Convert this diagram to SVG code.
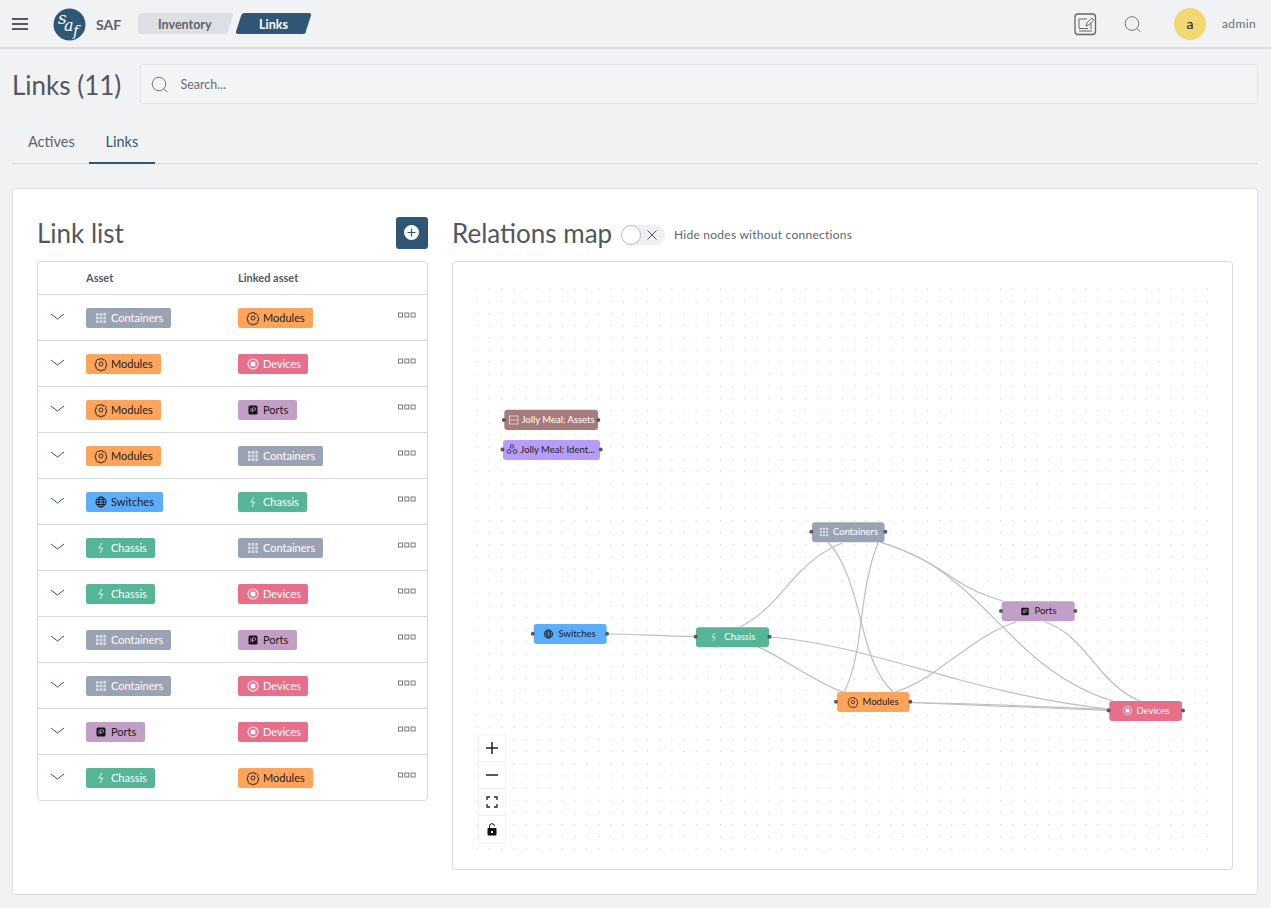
<svg xmlns="http://www.w3.org/2000/svg" xmlns:xlink="http://www.w3.org/1999/xlink" width="1271" height="908" viewBox="0 0 1271 908">
<style>
text{font-family:"Lato","Noto Sans","Liberation Sans",sans-serif;fill:#5a5f66}
.chip{font-size:11px}
.w{fill:#fff}
.k{fill:#1c1c1c}
.hd{font-size:11px;font-weight:700;fill:#555a61}
.ttl{font-size:26px;fill:#52575e}
.mp{font-size:9.5px}
.row{stroke:#d7d9dd;stroke-width:1}
.edge{fill:none;stroke:#bcbec3;stroke-width:1.2}
.hnd{fill:#55585c}
.ico{fill:none;stroke-width:1}
.dot3{fill:none;stroke:#777c83;stroke-width:1}
.c-con{fill:#9aa3b3}.c-mod{fill:#fea55b}.c-dev{fill:#e6708a}.c-por{fill:#c29fc6}.c-swi{fill:#5cadfb}.c-cha{fill:#55b596}
</style>
<defs>
<pattern id="dots" x="476.6" y="288.6" width="12.17" height="12.17" patternUnits="userSpaceOnUse"><rect x="0" y="0" width="1.1" height="1.1" fill="#c9ccd1"/></pattern>
<symbol id="i-con" viewBox="0 0 12 12" overflow="visible"><g fill="#d9dde3"><rect x="1" y="1" width="2.6" height="2.6"/><rect x="4.7" y="1" width="2.6" height="2.6"/><rect x="8.4" y="1" width="2.6" height="2.6"/><rect x="1" y="4.7" width="2.6" height="2.6"/><rect x="4.7" y="4.7" width="2.6" height="2.6"/><rect x="8.4" y="4.7" width="2.6" height="2.6"/><rect x="1" y="8.4" width="2.6" height="2.6"/><rect x="4.7" y="8.4" width="2.6" height="2.6"/><rect x="8.4" y="8.4" width="2.6" height="2.6"/></g></symbol>
<symbol id="i-mod" viewBox="0 0 12 12" overflow="visible"><circle cx="6" cy="6" r="2" fill="none" stroke="#222" stroke-width=".9"/><path d="M4.6 .7h2.8l.4 1.5 1.4-.7 1.9 2-.8 1.3 1.3.7v2.9l-1.3.5.7 1.4-2 1.9-1.3-.7-.4 1.3H4.6l-.5-1.4-1.3.7-2-1.9.7-1.3-1.2-.6V5l1.3-.6-.8-1.3 2-2 1.3.7z" fill="none" stroke="#222" stroke-width=".9"/></symbol>
<symbol id="i-dev" viewBox="0 0 12 12" overflow="visible"><circle cx="6" cy="6" r="5" fill="none" stroke="#fbe3e8" stroke-width="1.2"/><rect x="3.7" y="3.7" width="4.6" height="4.6" fill="#fff"/></symbol>
<symbol id="i-por" viewBox="0 0 12 12" overflow="visible"><rect x="1.5" y="1.5" width="9" height="9" rx="1.5" fill="#151515"/><path d="M4 3.8v4.4M5.6 8.2V3.8H7.4a1.2 1.2 0 0 1 0 2.6H5.6" fill="none" stroke="#c29fc6" stroke-width=".8"/></symbol>
<symbol id="i-swi" viewBox="0 0 12 12" overflow="visible"><g fill="none" stroke="#111" stroke-width=".9"><circle cx="6" cy="6" r="5"/><ellipse cx="6" cy="6" rx="2.2" ry="5"/><path d="M1 6h10M1.8 3.5h8.4M1.8 8.5h8.4"/></g></symbol>
<symbol id="i-cha" viewBox="0 0 12 12" overflow="visible"><path d="M7 1 3.8 6.2H7.6L5 11" fill="none" stroke="#e3f3ee" stroke-width="1"/></symbol>
<symbol id="menu3" viewBox="0 0 18 6" overflow="visible"><rect class="dot3" x=".5" y=".5" width="4" height="4"/><rect class="dot3" x="6.8" y=".5" width="4" height="4"/><rect class="dot3" x="13.1" y=".5" width="4" height="4"/></symbol>
<path id="chev" d="M0 0l6.5 5 6.5-5" fill="none" stroke="#2f5773" stroke-width="1"/>
</defs>
<rect width="1271" height="908" fill="#f1f2f4"/>
<g id="topbar">
<rect x="0" y="47" width="1271" height="2" fill="#d9dbe1"/>
<path d="M12 19h16M12 24h16M12 29h16" stroke="#55585c" stroke-width="2" fill="none"/>
<circle cx="69.500" cy="24.500" r="16" fill="#2f5773"/>
<text x="58" y="24" style="font-size:17px;font-family:'DejaVu Serif',serif;fill:#fff;font-style:italic">s</text>
<text x="64" y="31" style="font-size:16px;font-family:'DejaVu Serif',serif;fill:#fff;font-style:italic">a</text>
<text x="73" y="36" style="font-size:15px;font-family:'DejaVu Serif',serif;fill:#fff;font-style:italic">f</text>
<text x="96" y="30" style="font-size:14px;font-weight:700;fill:#5c6066">SAF</text>
<path d="M141 13H231a2 2 0 0 1 2 2.500L228 31a3 3 0 0 1-3 3H141a3 3 0 0 1-3-3V16a3 3 0 0 1 3-3z" fill="#dcdfe4"/>
<text x="158" y="29" style="font-size:12.500px;font-weight:700;fill:#5f636a">Inventory</text>
<path d="M245 13H309a2 2 0 0 1 2 2.500L306 31a3 3 0 0 1-3 3H238a2 2 0 0 1-2-2.500L241 16a4 4 0 0 1 4-3z" fill="#2f5773"/>
<text x="259" y="29" style="font-size:12.500px;font-weight:700;fill:#fff">Links</text>
<rect x="1075" y="14" width="20.500" height="20.500" rx="3" fill="none" stroke="#666" stroke-width="1.300"/>
<path d="M1079 31h13M1079 28.500h9M1079 28V19h8M1091 23v6" fill="none" stroke="#666" stroke-width="1"/>
<path d="M1086 26l.8-3 5-5 2 2-5 5z" fill="none" stroke="#666" stroke-width="1"/>
<circle cx="1132" cy="23.500" r="6.800" fill="none" stroke="#777" stroke-width="1"/>
<path d="M1136.500 28.500l4 3" stroke="#777" stroke-width="1"/>
<circle cx="1190" cy="24" r="16" fill="#f2d872"/>
<text x="1190" y="29" text-anchor="middle" style="font-size:14px;fill:#222">a</text>
<text x="1222" y="28" style="font-size:12px;letter-spacing:.4px;fill:#6a6e74">admin</text>
</g>
<g id="page-head">
<text x="12" y="95" class="ttl">Links (11)</text>
<rect x="140.500" y="64.500" width="1117" height="39" rx="2" fill="#f3f4f6" stroke="#dfe1e5"/>
<circle cx="159" cy="84" r="6.800" fill="none" stroke="#777" stroke-width="1"/>
<path d="M163.500 89l4 3" stroke="#777" stroke-width="1"/>
<text x="180.500" y="89" style="font-size:12.500px;fill:#6a6e74">Search...</text>
<text x="28" y="147" style="font-size:14.500px;fill:#5f646b">Actives</text>
<text x="105.500" y="147" style="font-size:14.500px;fill:#2f5773">Links</text>
<rect x="12" y="163" width="1246" height="1" fill="#d5d7db"/>
<rect x="89" y="162" width="66" height="2" fill="#2f5773"/>
</g>
<rect x="12.500" y="188.500" width="1245" height="706" rx="3" fill="#fff" stroke="#dcdee2"/>
<g id="link-list">
<text x="37" y="243" class="ttl">Link list</text>
<rect x="396" y="217" width="32" height="32" rx="3" fill="#2f5773"/>
<circle cx="411.500" cy="232.500" r="7.500" fill="#fff"/>
<path d="M407.500 232.500h8M411.500 228.500v8" stroke="#2f5773" stroke-width="1.200"/>
<rect x="37.500" y="261.500" width="390" height="539" rx="3" fill="#fff" stroke="#d7d9dd"/>
<text x="86" y="282" class="hd">Asset</text>
<text x="238" y="282" class="hd">Linked asset</text>
<g class="rows">
<path class="row" d="M38 294.500H427M38 340.500H427M38 386.500H427M38 432.500H427M38 478.500H427M38 524.500H427M38 570.500H427M38 616.500H427M38 662.500H427M38 708.500H427M38 754.500H427"/>
</g>
<g id="row-chevrons">
<use href="#chev" x="51" y="314"/><use href="#chev" x="51" y="360"/><use href="#chev" x="51" y="406"/><use href="#chev" x="51" y="452"/><use href="#chev" x="51" y="498"/><use href="#chev" x="51" y="544"/><use href="#chev" x="51" y="590"/><use href="#chev" x="51" y="636"/><use href="#chev" x="51" y="682"/><use href="#chev" x="51" y="728"/><use href="#chev" x="51" y="774"/>
</g>
<g id="row-menus">
<use href="#menu3" x="398" y="312.500" width="18" height="6"/><use href="#menu3" x="398" y="358.500" width="18" height="6"/><use href="#menu3" x="398" y="404.500" width="18" height="6"/><use href="#menu3" x="398" y="450.500" width="18" height="6"/><use href="#menu3" x="398" y="496.500" width="18" height="6"/><use href="#menu3" x="398" y="542.500" width="18" height="6"/><use href="#menu3" x="398" y="588.500" width="18" height="6"/><use href="#menu3" x="398" y="634.500" width="18" height="6"/><use href="#menu3" x="398" y="680.500" width="18" height="6"/><use href="#menu3" x="398" y="726.500" width="18" height="6"/><use href="#menu3" x="398" y="772.500" width="18" height="6"/>
</g>
<g id="chips">
<g id="r1a"><rect class="c-con" x="86" y="308" width="85" height="20" rx="2"/><use href="#i-con" x="95" y="312" width="12" height="12"/><text class="chip w" x="111" y="322">Containers</text></g>
<g id="r1b"><rect class="c-mod" x="238" y="308" width="75" height="20" rx="2"/><use href="#i-mod" x="247" y="312" width="12" height="12"/><text class="chip k" x="263" y="322">Modules</text></g>
<g id="r2a"><rect class="c-mod" x="86" y="354" width="75" height="20" rx="2"/><use href="#i-mod" x="95" y="358" width="12" height="12"/><text class="chip k" x="111" y="368">Modules</text></g>
<g id="r2b"><rect class="c-dev" x="238" y="354" width="70" height="20" rx="2"/><use href="#i-dev" x="247" y="358" width="12" height="12"/><text class="chip w" x="263" y="368">Devices</text></g>
<g id="r3a"><rect class="c-mod" x="86" y="400" width="75" height="20" rx="2"/><use href="#i-mod" x="95" y="404" width="12" height="12"/><text class="chip k" x="111" y="414">Modules</text></g>
<g id="r3b"><rect class="c-por" x="238" y="400" width="59" height="20" rx="2"/><use href="#i-por" x="247" y="404" width="12" height="12"/><text class="chip k" x="263" y="414">Ports</text></g>
<g id="r4a"><rect class="c-mod" x="86" y="446" width="75" height="20" rx="2"/><use href="#i-mod" x="95" y="450" width="12" height="12"/><text class="chip k" x="111" y="460">Modules</text></g>
<g id="r4b"><rect class="c-con" x="238" y="446" width="85" height="20" rx="2"/><use href="#i-con" x="247" y="450" width="12" height="12"/><text class="chip w" x="263" y="460">Containers</text></g>
<g id="r5a"><rect class="c-swi" x="86" y="492" width="77" height="20" rx="2"/><use href="#i-swi" x="95" y="496" width="12" height="12"/><text class="chip k" x="111" y="506">Switches</text></g>
<g id="r5b"><rect class="c-cha" x="238" y="492" width="69" height="20" rx="2"/><use href="#i-cha" x="247" y="496" width="12" height="12"/><text class="chip w" x="263" y="506">Chassis</text></g>
<g id="r6a"><rect class="c-cha" x="86" y="538" width="69" height="20" rx="2"/><use href="#i-cha" x="95" y="542" width="12" height="12"/><text class="chip w" x="111" y="552">Chassis</text></g>
<g id="r6b"><rect class="c-con" x="238" y="538" width="85" height="20" rx="2"/><use href="#i-con" x="247" y="542" width="12" height="12"/><text class="chip w" x="263" y="552">Containers</text></g>
<g id="r7a"><rect class="c-cha" x="86" y="584" width="69" height="20" rx="2"/><use href="#i-cha" x="95" y="588" width="12" height="12"/><text class="chip w" x="111" y="598">Chassis</text></g>
<g id="r7b"><rect class="c-dev" x="238" y="584" width="70" height="20" rx="2"/><use href="#i-dev" x="247" y="588" width="12" height="12"/><text class="chip w" x="263" y="598">Devices</text></g>
<g id="r8a"><rect class="c-con" x="86" y="630" width="85" height="20" rx="2"/><use href="#i-con" x="95" y="634" width="12" height="12"/><text class="chip w" x="111" y="644">Containers</text></g>
<g id="r8b"><rect class="c-por" x="238" y="630" width="59" height="20" rx="2"/><use href="#i-por" x="247" y="634" width="12" height="12"/><text class="chip k" x="263" y="644">Ports</text></g>
<g id="r9a"><rect class="c-con" x="86" y="676" width="85" height="20" rx="2"/><use href="#i-con" x="95" y="680" width="12" height="12"/><text class="chip w" x="111" y="690">Containers</text></g>
<g id="r9b"><rect class="c-dev" x="238" y="676" width="70" height="20" rx="2"/><use href="#i-dev" x="247" y="680" width="12" height="12"/><text class="chip w" x="263" y="690">Devices</text></g>
<g id="r10a"><rect class="c-por" x="86" y="722" width="59" height="20" rx="2"/><use href="#i-por" x="95" y="726" width="12" height="12"/><text class="chip k" x="111" y="736">Ports</text></g>
<g id="r10b"><rect class="c-dev" x="238" y="722" width="70" height="20" rx="2"/><use href="#i-dev" x="247" y="726" width="12" height="12"/><text class="chip w" x="263" y="736">Devices</text></g>
<g id="r11a"><rect class="c-cha" x="86" y="768" width="69" height="20" rx="2"/><use href="#i-cha" x="95" y="772" width="12" height="12"/><text class="chip w" x="111" y="782">Chassis</text></g>
<g id="r11b"><rect class="c-mod" x="238" y="768" width="75" height="20" rx="2"/><use href="#i-mod" x="247" y="772" width="12" height="12"/><text class="chip k" x="263" y="782">Modules</text></g>
</g>
</g>
<g id="relations-head">
<text x="452" y="243" class="ttl">Relations map</text>
<rect x="621" y="225" width="44" height="20" rx="10" fill="#eef0f2"/>
<circle cx="631" cy="235" r="9.500" fill="#fff" stroke="#b9bcc2"/>
<path d="M647.500 230.500l9 9M656.500 230.500l-9 9" stroke="#555" stroke-width="1"/>
<text x="674" y="239" style="font-size:12px;letter-spacing:.25px;fill:#5f646b">Hide nodes without connections</text>
</g>
<g id="map">
<rect x="452.500" y="261.500" width="780" height="608" rx="3" fill="#fff" stroke="#d7d9dd"/>
<rect x="473" y="285" width="736" height="566" fill="url(#dots)"/>
<g id="connectors">
<path class="edge" d="M607 634C640 634 660 636.500 696 636.500"/>
<path class="edge" d="M740 627C768 613 782 590 800 572C813 559 826 549 842 543"/>
<path class="edge" d="M770 637C830 642 880 658 960 680C1020 696 1070 705 1109 709"/>
<path class="edge" d="M758 647C785 658 810 680 843 692"/>
<path class="edge" d="M828 542C845 560 853 590 860 617C868 650 875 675 893 692"/>
<path class="edge" d="M878 542C866 575 864 600 860 630C857 655 853 675 844 692"/>
<path class="edge" d="M880 542C910 552 930 562 953 578C970 590 985 596 1003 601"/>
<path class="edge" d="M880 542C915 553 935 565 955 582C975 598 990 615 1010 634C1040 665 1075 690 1113 701"/>
<path class="edge" d="M1016 622C990 630 965 650 940 668C925 679 912 687 895 692"/>
<path class="edge" d="M1045 622C1070 630 1085 652 1102 672C1115 686 1125 695 1140 701"/>
<path class="edge" d="M910 702.500C980 705 1050 708 1109 710.500"/>
<path class="edge" d="M910 702.500C980 703.500 1050 707 1109 709.500"/>
</g>
<g id="n-assets"><rect x="504.300" y="409.700" width="93.700" height="20.300" rx="3" fill="#a87b7b"/><circle class="hnd" cx="503.800" cy="420" r="2"/><circle class="hnd" cx="598.300" cy="420" r="2"/><rect x="509.500" y="416" width="8.500" height="8" fill="none" stroke="#e9dddd" stroke-width=".8"/><path d="M509.500 420h8.500" stroke="#e9dddd" stroke-width=".8"/><text class="mp w" x="521.500" y="423.300">Jolly Meal: Assets</text></g>
<g id="n-identities"><rect x="503" y="440" width="97" height="20" rx="3" fill="#b69cfb"/><circle class="hnd" cx="502.500" cy="449.500" r="2"/><circle class="hnd" cx="600.700" cy="449.500" r="2"/><g fill="none" stroke="#222" stroke-width=".8"><circle cx="512" cy="446.500" r="1.700"/><circle cx="509" cy="451.500" r="1.900"/><circle cx="515" cy="451.500" r="1.900"/></g><text class="mp k" x="520.300" y="453">Jolly Meal: Ident...</text></g>
<g id="n-containers"><rect x="812" y="522.300" width="72.500" height="20" rx="3" class="c-con"/><circle class="hnd" cx="811.300" cy="531.800" r="2"/><circle class="hnd" cx="885.300" cy="531.800" r="2"/><use href="#i-con" x="819" y="527" width="10" height="10"/><text class="mp w" x="833" y="535">Containers</text></g>
<g id="n-ports"><rect x="1001.700" y="601.300" width="73" height="20" rx="3" class="c-por"/><circle class="hnd" cx="1001" cy="611" r="2"/><circle class="hnd" cx="1075.300" cy="611" r="2"/><use href="#i-por" x="1020" y="606.500" width="10" height="10"/><text class="mp k" x="1034.500" y="614.300">Ports</text></g>
<g id="n-switches"><rect x="533.700" y="624" width="73" height="20" rx="3" class="c-swi"/><circle class="hnd" cx="532.800" cy="633.700" r="2"/><circle class="hnd" cx="607" cy="633.700" r="2"/><use href="#i-swi" x="543.500" y="629" width="10" height="10"/><text class="mp k" x="558.500" y="637">Switches</text></g>
<g id="n-chassis"><rect x="696" y="627.300" width="73" height="20" rx="3" class="c-cha"/><circle class="hnd" cx="695.700" cy="636.700" r="2"/><circle class="hnd" cx="769.500" cy="636.700" r="2"/><use href="#i-cha" x="709" y="632" width="10" height="10"/><text class="mp w" x="724.300" y="640">Chassis</text></g>
<g id="n-modules"><rect x="837" y="692" width="72.500" height="20" rx="3" class="c-mod"/><circle class="hnd" cx="836" cy="701.700" r="2"/><circle class="hnd" cx="910.300" cy="701.700" r="2"/><use href="#i-mod" x="848" y="697" width="10" height="10"/><text class="mp k" x="862.500" y="705">Modules</text></g>
<g id="n-devices"><rect x="1109.300" y="701" width="72.700" height="20" rx="3" class="c-dev"/><circle class="hnd" cx="1108.700" cy="710.500" r="2"/><circle class="hnd" cx="1183" cy="710.500" r="2"/><use href="#i-dev" x="1122.500" y="705.500" width="10" height="10"/><text class="mp w" x="1136.500" y="714">Devices</text></g>
<g id="controls">
<rect x="478.500" y="735" width="27" height="108" fill="#fff" stroke="#f0f1f3"/>
<path d="M478.500 761.500h27M478.500 788.500h27M478.500 815.500h27" stroke="#eeeff1"/>
<path d="M486 748h12M492 742v12M486 775h12" stroke="#222" stroke-width="1.500"/>
<path d="M487 800v-3h3M494 797h3v3M497 804v3h-3M490 807h-3v-3" fill="none" stroke="#222" stroke-width="1.300"/>
<rect x="487.500" y="828" width="9" height="7.500" rx="1" fill="#111"/>
<path d="M489.500 828v-1.800a2.500 2.500 0 0 1 5 0" fill="none" stroke="#111" stroke-width="1"/>
<rect x="491" y="831" width="2" height="2" fill="#fff"/>
</g>
</g>
</svg>
